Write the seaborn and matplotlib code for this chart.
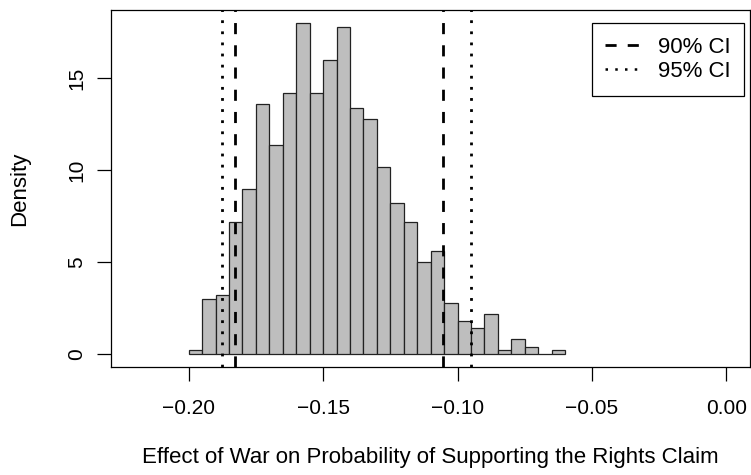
import numpy as np
import pandas as pd
import matplotlib
matplotlib.use("Agg")
import matplotlib.pyplot as plt
from matplotlib.lines import Line2D
import seaborn as sns

# ---- data ----
bin_start = -0.200
bin_width = 0.005
density = [0.2, 3.0, 3.2, 7.2, 9.0, 13.6, 11.4, 14.2, 18.0, 14.2, 16.0, 17.8, 13.4, 12.8,
           10.2, 8.2, 7.2, 5.0, 5.6, 2.8, 1.8, 1.4, 2.2, 0.2, 0.8, 0.4, 0.0, 0.2]
ci90 = [-0.1829, -0.1054]
ci95 = [-0.1877, -0.0950]
x_ticks = [-0.20, -0.15, -0.10, -0.05, 0.00]
y_ticks = [0, 5, 10, 15]
legend_labels = ["90% CI", "95% CI"]
x_label = "Effect of War on Probability of Supporting the Rights Claim"
y_label = "Density"

sns.set_theme(style="white")
plt.rcParams["font.family"] = ["Liberation Sans", "DejaVu Sans"]
plt.rcParams.update({"text.color": "black", "axes.labelcolor": "black",
                     "xtick.color": "black", "ytick.color": "black"})
FS_TICK = 15
FS_LAB = 16
FS_LEG = 16

edges = [float(e) for e in bin_start + bin_width * np.arange(len(density) + 1)]
mids = [(a + b) / 2 for a, b in zip(edges[:-1], edges[1:])]
df = pd.DataFrame({"x": mids, "w": density})

W, H = 751, 475
fig = plt.figure(figsize=(W / 100, H / 100), dpi=100)
L, R, T, B = 111.3, 750.0, 10.0, 367.3
ax = fig.add_axes([L / W, 1 - B / H, (R - L) / W, (B - T) / H])

sns.histplot(data=df, x="x", weights="w", bins=edges, stat="count",
             color="#BEBEBE", edgecolor="#222222", linewidth=0.9, alpha=1, ax=ax)

for v in ci90:
    ax.axvline(v, color="black", lw=2, linestyle=(0, (4, 4)))
for v in ci95:
    ax.axvline(v, color="black", lw=2, linestyle=(0, (1, 3)))

ax.set_xlim(-0.2288, 0.0088)
ax.set_ylim(-0.72, 18.72)
ax.set_xticks(x_ticks)
ax.set_xticklabels([f"{t:.2f}".replace("-", "\u2212") for t in x_ticks], fontsize=FS_TICK)
ax.set_yticks(y_ticks)
ax.set_yticklabels([str(t) for t in y_ticks], fontsize=FS_TICK, rotation=90, va="center")
ax.tick_params(axis="both", which="major", direction="out", length=10, width=0.9,
               color="black", bottom=True, left=True, top=False, right=False)
ax.tick_params(axis="x", pad=13)
ax.tick_params(axis="y", pad=8)
for s in ax.spines.values():
    s.set_color("black")
    s.set_linewidth(0.9)

ax.set_xlabel(x_label, fontsize=FS_LAB)
ax.set_ylabel(y_label, fontsize=FS_LAB)
ax.xaxis.set_label_coords(0.5, (B - 457) / (B - T))
ax.xaxis.label.set_va("center")
ax.yaxis.set_label_coords((19.5 - L) / (R - L), 0.5)
ax.yaxis.label.set_va("center")

handles = [Line2D([0], [0], color="black", lw=2, linestyle=(0, (4, 4))),
           Line2D([0], [0], color="black", lw=1.8, linestyle=(0, (1, 2.9)))]
leg = fig.legend(handles, legend_labels, loc="upper right",
                 bbox_to_anchor=(744 / W, 1 - 23 / H), bbox_transform=fig.transFigure,
                 fontsize=FS_LEG, frameon=True, fancybox=False, framealpha=1,
                 edgecolor="black", borderpad=0.62, labelspacing=0.15,
                 handlelength=1.5, handletextpad=0.85, borderaxespad=0)
leg.get_frame().set_linewidth(0.9)

fig.savefig("out.png", dpi=100)
